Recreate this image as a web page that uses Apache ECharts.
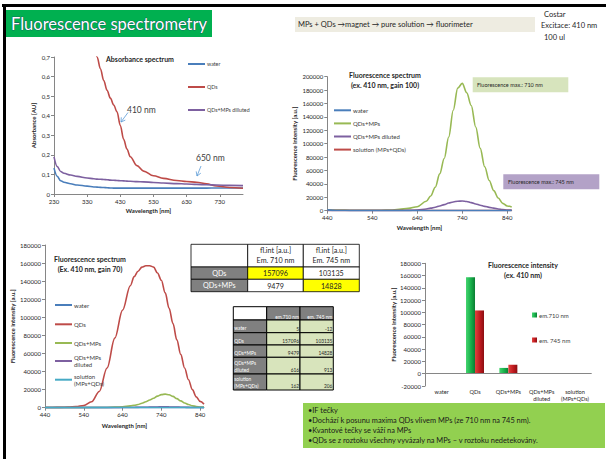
<!DOCTYPE html>
<html><head><meta charset="utf-8">
<script src="https://cdn.jsdelivr.net/npm/echarts/dist/echarts.min.js"></script>
<style>html,body{margin:0;padding:0;background:#fff}#c{width:610px;height:459px}</style>
</head><body><div id="c"></div>
<script>
// ---------- DATA ----------
const absWavelengths = [230,240,250,260,280,300,330,350,360,370,380,390,400,410,420,430,440,450,460,480,500,530,560,600,630,660,690,720,760,800];
const absWater   = [0.132,0.090,0.068,0.060,0.052,0.046,0.040,0.036,0.035,0.034,0.033,0.032,0.031,0.030,0.030,0.030,0.030,0.030,0.030,0.030,0.030,0.030,0.030,0.030,0.030,0.030,0.030,0.031,0.031,0.031];
const absQDs     = [null,null,null,null,null,null,null,0.80,0.70,0.64,0.58,0.53,0.49,0.455,0.42,0.35,0.28,0.23,0.19,0.145,0.117,0.093,0.080,0.069,0.064,0.060,0.052,0.041,0.033,0.029];
const absDiluted = [0.19,0.14,0.115,0.106,0.097,0.090,0.082,0.078,0.076,0.075,0.074,0.073,0.071,0.070,0.069,0.068,0.067,0.066,0.065,0.063,0.062,0.059,0.056,0.053,0.051,0.049,0.047,0.046,0.044,0.043];

const flWavelengths = [440,460,480,500,520,540,560,580,600,620,640,660,670,680,690,700,710,720,730,740,750,760,770,780,790,800,810,820,830,840,850];
// gain 100
const g100Water    = [1200,400,200,100,100,100,100,100,100,100,100,100,100,100,100,100,100,100,100,100,100,100,100,100,100,100,100,100,100,100,100];
const g100QDsMPs   = [1500,1000,800,700,600,600,700,1000,2000,3500,6000,14000,22000,35000,55000,78000,110000,150000,183000,190000,176000,157000,125000,93000,65600,45000,30000,19000,11000,7000,5500];
const g100Diluted  = [300,300,300,300,300,300,300,300,300,500,1000,2500,3800,5200,7000,9000,11500,13000,14200,14500,13800,12000,10000,8200,6500,5000,3800,2600,1700,1100,900];
const g100Solution = [200,200,200,200,200,200,200,200,200,200,200,200,200,200,200,200,200,200,200,200,200,200,200,200,200,200,200,200,200,200,200];
// gain 70
const g70Water    = [50,50,50,50,50,50,50,50,50,50,50,50,50,50,50,50,50,50,50,50,50,50,50,50,50,50,50,50,50,50,50];
const g70QDs      = [300,300,400,600,1200,2500,6500,18000,44000,77000,108000,135000,145000,151000,155500,157000,157096,155500,149000,141000,127000,110000,93000,75000,59000,44000,31000,20000,12000,7000,4000];
const g70QDsMPs   = [100,100,100,100,100,100,150,200,300,600,1100,2000,2700,3500,5000,6500,8500,10500,12800,14500,15000,14300,12500,10000,7500,5200,3500,2200,1300,800,600];
const g70Diluted  = [50,50,50,50,50,50,50,60,80,100,150,250,300,380,450,520,616,720,820,900,913,880,800,700,580,450,350,250,180,140,120];
const g70Solution = [100,100,100,100,100,100,110,120,130,140,150,160,162,165,168,170,162,175,190,200,206,200,190,175,160,145,130,120,110,105,100];

// intensities (bar chart + tables)
const samples = ['water','QDs','QDs+MPs','QDs+MPs\ndiluted','solution\n(MPs+QDs)'];
const em710 = [5,157096,9479,616,162];
const em745 = [-12,103135,14828,913,206];

const bulletLines = [
  '•IF tečky',
  '•Dochází k posunu maxima QDs vlivem MPs (ze 710 nm na 745 nm).',
  '•Kvantové tečky se váží na MPs',
  '•QDs se z roztoku všechny vyvázaly na MPs – v roztoku nedetekovány.'
];

// ---------- STYLE ----------
const FONT = 'Lato, "Open Sans", sans-serif';
const C = {blue:'#4a7ebb', red:'#be4b48', green:'#98b954', purple:'#7d60a0', cyan:'#46aac5'};
const AX = '#868686';
const TXT = '#262626';
const plain = v => String(v);

function txt(x, y, text, size, o) {
  o = o || {};
  return {type:'text', silent:true, z:100, style:{
    x:x, y:y, text:text, fill:o.fill||TXT, fontSize:size, fontFamily:o.family||FONT,
    fontWeight:o.weight||'normal', textAlign:o.align||'left', textVerticalAlign:o.valign||'middle',
    lineHeight:o.lh||Math.round(size*1.25), stroke:o.stroke||null, lineWidth:o.lw||0
  }};
}
function rect(x, y, w, h, fill, stroke, lw) {
  return {type:'rect', silent:true, z:90, shape:{x:x,y:y,width:w,height:h},
    style:{fill:fill, stroke:stroke||null, lineWidth:lw||0}};
}
function pairs(xs, ys) {
  const out = [];
  xs.forEach((x,i)=>{ if (ys[i] !== null) out.push([x, ys[i]]); });
  return out;
}
function lineSeries(name, xs, ys, color, idx, z) {
  return {type:'line', name:name, xAxisIndex:idx, yAxisIndex:idx, data:pairs(xs, ys),
    showSymbol:false, smooth:0.35, smoothMonotone:'x', color:color, z:z||2,
    lineStyle:{color:color, width:1.6}, emphasis:{disabled:true}};
}
function valX(grid, min, max, name, gap) {
  return {type:'value', gridIndex:grid, min:min, max:max, interval:100,
    axisLine:{show:true, onZero:false, lineStyle:{color:AX, width:1}},
    axisTick:{show:true, length:3, lineStyle:{color:AX}},
    axisLabel:{fontSize:6, color:TXT, fontFamily:FONT, margin:4, showMaxLabel:false, formatter:plain},
    splitLine:{show:false},
    name:name, nameLocation:'middle', nameGap:gap,
    nameTextStyle:{fontSize:6, fontWeight:'bold', color:TXT, fontFamily:FONT}};
}
function valY(grid, min, max, interval, name, gap, fmt) {
  return {type:'value', gridIndex:grid, min:min, max:max, interval:interval,
    axisLine:{show:true, lineStyle:{color:AX, width:1}},
    axisTick:{show:true, length:3, lineStyle:{color:AX}},
    axisLabel:{fontSize:6, color:TXT, fontFamily:FONT, margin:4, formatter:fmt||plain},
    splitLine:{show:false},
    name:name, nameLocation:'middle', nameGap:gap, nameRotate:90,
    nameTextStyle:{fontSize:6, fontWeight:'bold', color:TXT, fontFamily:FONT}};
}
function legend(names, left, top, gap, size, extra) {
  return Object.assign({orient:'vertical', left:left, top:top, padding:0, itemGap:gap,
    icon:'rect', itemWidth:17, itemHeight:2, selectedMode:false,
    textStyle:{fontSize:size, color:'#404040', fontFamily:FONT, lineHeight:7, padding:[0,0,0,-3]},
    data:names}, extra||{});
}

// ---------- GRAPHICS (frame, header, notes, tables) ----------
const g = [];
g.push(rect(2, 4, 604, 3, '#000'));
g.push(rect(3, 4, 3, 455, '#000'));
g.push(rect(6, 10, 206, 27, '#00b050'));
g.push(txt(11, 24, 'Fluorescence spectrometry', 16.5, {fill:'#ffffff', stroke:'#1f3864', lw:0.7}));
g.push(rect(295, 17, 240, 15, '#eeece1'));
g.push(txt(298, 24.5, 'MPs + QDs →magnet → pure solution → fluorimeter', 7.5));
g.push(txt(544, 14, 'Costar', 7.5));
g.push(txt(541, 25.5, 'Excitace: 410 nm', 7.5));
g.push(txt(544, 37, '100 ul', 7.5));

// chart titles
g.push(txt(140, 58.5, 'Absorbance spectrum', 7, {weight:'bold', align:'center'}));
g.push(txt(385, 75, 'Fluorescence spectrum', 7, {weight:'bold', align:'center'}));
g.push(txt(385, 84.5, '(ex. 410 nm, gain 100)', 7, {weight:'bold', align:'center'}));
g.push(txt(90, 258.5, 'Fluorescence spectrum', 7, {weight:'bold', align:'center'}));
g.push(txt(90, 268.5, '(Ex. 410 nm, gain 70)', 7, {weight:'bold', align:'center'}));
g.push(txt(523, 265, 'Fluorescence intensity', 7, {weight:'bold', align:'center'}));
g.push(txt(523, 275, '(ex. 410 nm)', 7, {weight:'bold', align:'center'}));

// absorbance annotations with arrows
g.push(txt(127, 110, '410 nm', 8.5, {fill:'#404040'}));
g.push({type:'line', silent:true, z:100, shape:{x1:128,y1:112.5,x2:121,y2:122}, style:{stroke:'#5b9bd5', lineWidth:0.8}});
g.push({type:'polyline', silent:true, z:100, shape:{points:[[125.3,120.1],[121,122],[121.3,117.3]]}, style:{stroke:'#5b9bd5', lineWidth:0.8, fill:null}});
g.push(txt(196, 158, '650 nm', 8.5, {fill:'#404040'}));
g.push({type:'line', silent:true, z:100, shape:{x1:201,y1:166,x2:197,y2:176}, style:{stroke:'#5b9bd5', lineWidth:0.8}});
g.push({type:'polyline', silent:true, z:100, shape:{points:[[200.8,173.2],[197,176],[196.2,171.4]]}, style:{stroke:'#5b9bd5', lineWidth:0.8, fill:null}});

// fluorescence max boxes
g.push(rect(472.7, 77.3, 95.6, 15, '#d7e4bd'));
g.push(txt(477, 85, 'Fluorescence max.: 710 nm', 5.5));
g.push(rect(503.3, 174.3, 96, 15, '#b3a2c7'));
g.push(txt(508, 182, 'Fluorescence max.: 745 nm', 5.5));

// table 1
(function(){
  const xs = [191, 247.7, 303.3, 359.3];
  const ys = [244.3, 267, 279.3, 291.7];
  const heads = ['fl.int [a.u.]\nEm. 710 nm', 'fl.int [a.u.]\nEm. 745 nm'];
  g.push(rect(xs[0], ys[0], xs[1]-xs[0], ys[1]-ys[0], '#ffffff', '#000', 0.8));
  heads.forEach((h,i)=>{
    g.push(rect(xs[i+1], ys[0], xs[i+2]-xs[i+1], ys[1]-ys[0], '#ffffff', '#000', 0.8));
    g.push(txt((xs[i+1]+xs[i+2])/2, (ys[0]+ys[1])/2, h, 7.2, {align:'center', lh:10}));
  });
  [1,2].forEach((si,r)=>{
    const y0 = ys[r+1], y1 = ys[r+2];
    g.push(rect(xs[0], y0, xs[1]-xs[0], y1-y0, '#808080', '#000', 0.8));
    g.push(txt((xs[0]+xs[1])/2, (y0+y1)/2, samples[si], 7.2, {align:'center', fill:'#ffffff'}));
    const vals = [em710[si], em745[si]];
    vals.forEach((v,c)=>{
      const hi = (r===0 && c===0) || (r===1 && c===1);
      g.push(rect(xs[c+1], y0, xs[c+2]-xs[c+1], y1-y0, hi ? '#ffff00' : '#ffffff', '#000', 0.8));
      g.push(txt((xs[c+1]+xs[c+2])/2, (y0+y1)/2 + 0.5, String(v), 7.2, {align:'center'}));
    });
  });
})();

// table 2
(function(){
  const xs = [233.3, 266.7, 300, 333.3];
  const ys = [306.7, 320, 332.7, 345, 357.3, 374, 390];
  const heads = ['em.710 nm', 'em. 745 nm'];
  g.push(rect(xs[0], ys[0], xs[1]-xs[0], ys[1]-ys[0], '#ffffff', '#000', 1));
  heads.forEach((h,i)=>{
    g.push(rect(xs[i+1], ys[0], xs[i+2]-xs[i+1], ys[1]-ys[0], '#808080', '#000', 1));
    g.push(txt(xs[i+2]-1, ys[1]-3, h, 4.8, {align:'right', fill:'#ffffff'}));
  });
  samples.forEach((s,r)=>{
    const y0 = ys[r+1], y1 = ys[r+2];
    g.push(rect(xs[0], y0, xs[1]-xs[0], y1-y0, '#808080', '#000', 1));
    g.push(txt(xs[0]+1, y1-1, s, 4.8, {fill:'#ffffff', valign:'bottom', lh:6.5}));
    [em710[r], em745[r]].forEach((v,c)=>{
      g.push(rect(xs[c+1], y0, xs[c+2]-xs[c+1], y1-y0, '#d8e4bc', '#000', 1));
      g.push(txt(xs[c+2]-1, y1-1, String(v), 4.8, {align:'right', valign:'bottom'}));
    });
  });
})();

// notes box
g.push(rect(303, 403, 302, 45, '#92d050'));
bulletLines.forEach((l,i)=>{ g.push(txt(308, 410.7 + i*9.8, l, 7.4, {fill:'#1a1a1a'})); });

// ---------- CHART ----------
const barGreen = {type:'linear', x:0, y:0, x2:1, y2:0, colorStops:[{offset:0,color:'#45d46f'},{offset:0.55,color:'#17b04a'},{offset:1,color:'#0b7d33'}]};
const barRed   = {type:'linear', x:0, y:0, x2:1, y2:0, colorStops:[{offset:0,color:'#e2433f'},{offset:0.55,color:'#c01a1f'},{offset:1,color:'#8a0e12'}]};

const option = {
  animation:false,
  backgroundColor:'#ffffff',
  textStyle:{fontFamily:FONT},
  grid:[
    {left:54, top:57, width:189, height:137, outerBoundsMode:'none', containLabel:false},
    {left:327.3, top:76.7, width:184.4, height:134, outerBoundsMode:'none', containLabel:false},
    {left:45, top:245, width:159, height:162.7, outerBoundsMode:'none', containLabel:false},
    {left:425, top:263.3, width:166.7, height:122.7, outerBoundsMode:'none', containLabel:false}
  ],
  xAxis:[
    valX(0, 230, 800, 'Wavelength [nm]', 13),
    valX(1, 440, 850, 'Wavelength [nm]', 14),
    valX(2, 440, 850, 'Wavelength [nm]', 15),
    {type:'category', gridIndex:3, data:samples,
      axisLine:{show:false, onZero:false}, axisTick:{show:false},
      axisLabel:{fontSize:5.6, color:TXT, fontFamily:FONT, margin:2, interval:0, lineHeight:7}}
  ],
  yAxis:[
    valY(0, 0, 0.7, 0.1, 'Absorbance [AU]', 18, v => v === 0 ? '0' : v.toFixed(1).replace('.', ',')),
    valY(1, 0, 200000, 20000, 'Fluorescence intensity [a.u.]', 30),
    valY(2, 0, 180000, 20000, 'Fluorescence intensity [a.u.]', 30),
    valY(3, -20000, 180000, 20000, 'Fluorescence intensity [a.u.]', 29)
  ],
  legend:[
    legend(['water','QDs','QDs+MPs dilluted'], 188, 60.5, 16, 5.3),
    legend(['water','QDs+MPs','QDs+MPs diluted','solution (MPs+QDs)'], 334, 106.8, 6.1, 6),
    legend(['water'], 55, 301.5, 0, 6),
    legend(['QDs'], 55, 320.8, 0, 6),
    legend(['QDs+MPs'], 55, 339.5, 0, 6),
    legend(['QDs+MPs\ndiluted'], 55, 350.5, 0, 6, {textStyle:{fontSize:6, color:'#404040', fontFamily:FONT, lineHeight:7, padding:[7,0,0,-3]}}),
    legend(['solution\n(MPs+QDs)'], 55, 369.2, 0, 6, {textStyle:{fontSize:6, color:'#404040', fontFamily:FONT, lineHeight:7, padding:[7,0,0,-3]}}),
    legend(['em.710 nm','em. 745 nm'], 532, 311.5, 18, 6, {itemWidth:5, itemHeight:5})
  ],
  series:[
    lineSeries('water', absWavelengths, absWater, C.blue, 0),
    lineSeries('QDs', absWavelengths, absQDs, C.red, 0),
    lineSeries('QDs+MPs dilluted', absWavelengths, absDiluted, C.purple, 0),

    lineSeries('water', flWavelengths, g100Water, C.blue, 1, 5),
    lineSeries('QDs+MPs', flWavelengths, g100QDsMPs, C.green, 1),
    lineSeries('QDs+MPs diluted', flWavelengths, g100Diluted, C.purple, 1),
    lineSeries('solution (MPs+QDs)', flWavelengths, g100Solution, C.red, 1),

    lineSeries('water', flWavelengths, g70Water, C.blue, 2),
    lineSeries('QDs', flWavelengths, g70QDs, C.red, 2),
    lineSeries('QDs+MPs', flWavelengths, g70QDsMPs, C.green, 2),
    lineSeries('QDs+MPs\ndiluted', flWavelengths, g70Diluted, C.purple, 2),
    lineSeries('solution\n(MPs+QDs)', flWavelengths, g70Solution, C.cyan, 2),

    {type:'bar', name:'em.710 nm', xAxisIndex:3, yAxisIndex:3, data:em710, barWidth:9, barGap:'0%',
      color:'#17b04a', itemStyle:{color:barGreen}, emphasis:{disabled:true},
      markLine:{silent:true, symbol:['none','none'], label:{show:false},
        lineStyle:{color:AX, type:'solid', width:1}, data:[{yAxis:0}]}},
    {type:'bar', name:'em. 745 nm', xAxisIndex:3, yAxisIndex:3, data:em745, barWidth:9, barGap:'0%',
      color:'#c01a1f', itemStyle:{color:barRed}, emphasis:{disabled:true}}
  ],
  graphic:{elements:g}
};

const chart = echarts.init(document.getElementById('c'), null, {renderer:'svg'});
chart.setOption(option);
</script>
</body></html>
